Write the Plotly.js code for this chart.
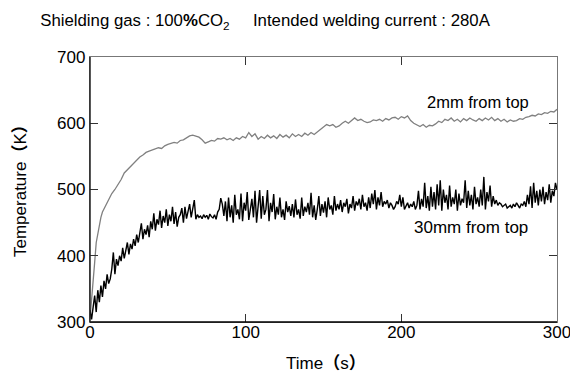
<!DOCTYPE html>
<html><head><meta charset="utf-8">
<script src="https://cdn.plot.ly/plotly-3.0.1.min.js"></script>
<style>html,body{margin:0;padding:0;background:#fff}#chart{width:570px;height:373px}</style>
</head><body><div id="chart"></div>
<script>
// 30mm from top: one reading per second, 0..300 s
const time30 = Array.from({length: 301}, (_, i) => i);
const temp30 = [
318,304,322,340,315,348,330,355,338,362,
350,372,358,365,380,405,372,395,385,400,
392,412,396,408,420,402,418,410,425,415,
432,420,438,449,425,440,432,446,428,452,
440,464,438,455,447,468,442,460,450,470,
445,462,452,474,448,466,444,458,462,472,
450,474,456,468,478,458,470,484,455,462,
458,460,456,462,458,461,455,463,459,457,
462,455,466,470,487,478,460,482,452,488,
458,476,450,492,462,470,455,494,452,480,
468,496,454,472,486,458,498,450,476,499,
456,490,462,470,499,452,480,466,493,455,
474,462,488,458,470,454,482,466,475,460,
478,458,485,462,470,456,488,460,474,466,
480,462,495,458,476,454,470,490,460,478,
465,482,458,488,470,476,462,490,468,478,
470,484,466,480,474,486,464,478,472,490,
468,482,476,486,470,492,474,480,468,488,
472,494,478,499,470,488,476,496,474,482,
478,484,472,480,476,470,474,482,478,492,
474,488,470,476,480,472,478,474,482,470,
476,498,470,486,474,510,472,490,468,504,
474,496,470,508,476,514,468,500,480,492,
470,506,474,488,478,500,468,494,476,486,
480,514,472,498,476,492,470,504,478,488,
474,500,476,519,470,496,482,506,474,490,
478,484,476,480,478,474,476,478,472,474,
476,472,478,474,480,476,472,478,476,482,
474,492,478,505,472,510,480,498,476,500,
482,504,478,496,484,508,480,498,490,510,
500];

// 2mm from top
const time2 = [0,1,2,3,4,5,6,7,8,10,12,14,16,18,20,22,24,26,28,30,32,34,36,38,40,42,44,46,48,50,
52,54,56,58,60,62,64,66,68,70,72,74,76,78,80,82,84,86,88,90,92,94,96,98,100,
102,104,106,108,110,112,114,116,118,120,122,124,126,128,130,132,134,136,138,140,
142,144,146,148,150,152,154,156,158,160,162,164,166,168,170,172,174,176,178,180,
182,184,186,188,190,192,194,196,198,200,202,204,206,208,210,212,214,216,218,220,
222,224,226,228,230,232,234,236,238,240,242,244,246,248,250,252,254,256,258,260,
262,264,266,268,270,272,274,276,278,280,282,284,286,288,290,292,294,296,298,300];
const temp2 = [305,330,365,390,420,435,448,458,466,475,485,494,500,507,515,525,530,535,540,545,549,552,556,558,560,561,563,562,566,568,
570,571,570,574,575,578,581,582,580,579,575,570,572,574,573,577,576,578,575,577,574,578,576,580,578,
586,580,584,576,580,577,582,578,581,577,583,579,582,578,584,580,583,580,585,582,
586,583,587,590,595,598,596,598,594,596,600,603,600,604,608,604,606,603,601,602,
605,604,606,603,607,605,608,609,606,610,608,611,604,600,597,595,598,594,597,596,
599,603,601,606,604,608,603,606,602,607,604,608,605,603,607,604,608,605,609,604,
607,603,606,602,605,603,604,607,606,609,610,612,611,614,613,616,615,618,617,621];

const xTicks = [0,100,200,300];
const yTicks = [300,400,500,600,700];
const labels = {s2: '2mm from top', s30: '30mm from top',
                xTitle: 'Time<b>（</b>s<b>）</b>', yTitle: 'Temperature<b>（</b>K<b>）</b>'};

const font = 'Liberation Sans, Arial, Noto Sans CJK JP, sans-serif';

const traces = [
  {x: time2, y: temp2, type: 'scatter', mode: 'lines', line: {color: '#808080', width: 1.3}, showlegend: false},
  {x: time30, y: temp30, type: 'scatter', mode: 'lines', line: {color: '#000000', width: 1.4}, showlegend: false}
];

const layout = {
  width: 570, height: 373,
  margin: {l: 90, r: 13, t: 57, b: 51},
  paper_bgcolor: '#fff', plot_bgcolor: '#fff',
  font: {family: font, size: 16, color: '#000'},
  title: {text: 'Shielding gas : 100<b>%</b>CO<sub>2</sub>\u00a0\u00a0\u00a0\u00a0 Intended welding current : 280A',
          x: 0.465, xanchor: 'center', y: 0.945, yanchor: 'middle', font: {size: 16.8, family: font, color: '#000'}},
  xaxis: {range: [0, 300], tickvals: xTicks, ticktext: xTicks.map(String), ticks: 'inside', ticklen: 8, tickcolor: '#333',
          showline: true, linecolor: '#777', linewidth: 1.2, mirror: 'ticks', showgrid: false, zeroline: false,
          ticklabelstandoff: -6, ticklabeloverflow: 'allow', automargin: false,
          tickfont: {size: 17}},
  yaxis: {range: [300, 700], tickvals: yTicks, ticktext: yTicks.map(String), ticks: 'inside', ticklen: 8, tickcolor: '#333',
          showline: true, linecolor: '#777', linewidth: 1.2, mirror: 'ticks', showgrid: false, zeroline: false,
          ticklabeloverflow: 'allow', automargin: false,
          tickfont: {size: 17}},
  shapes: [
    {type: 'line', xref: 'paper', yref: 'paper', x0: 0, x1: 1, y0: 0, y1: 0, line: {color: '#000', width: 1.5}},
    {type: 'line', xref: 'paper', yref: 'paper', x0: 0, x1: 0, y0: 0, y1: 1, line: {color: '#222', width: 1.5}}
  ],
  annotations: [
    {x: 283, y: 632, xref: 'x', yref: 'y', text: labels.s2, showarrow: false, xanchor: 'right', yanchor: 'middle', font: {size: 16.5}},
    {x: 245, y: 443, xref: 'x', yref: 'y', text: labels.s30, showarrow: false, xanchor: 'center', yanchor: 'middle', font: {size: 17}},
    {x: 0.505, y: -0.155, xref: 'paper', yref: 'paper', text: labels.xTitle, showarrow: false, xanchor: 'center', yanchor: 'middle', font: {size: 17}},
    {x: -0.15, y: 0.513, xref: 'paper', yref: 'paper', text: labels.yTitle, showarrow: false, xanchor: 'center', yanchor: 'middle', textangle: -90, font: {size: 17}}
  ]
};

Plotly.newPlot('chart', traces, layout, {displayModeBar: false, staticPlot: true});
</script>
</body></html>
